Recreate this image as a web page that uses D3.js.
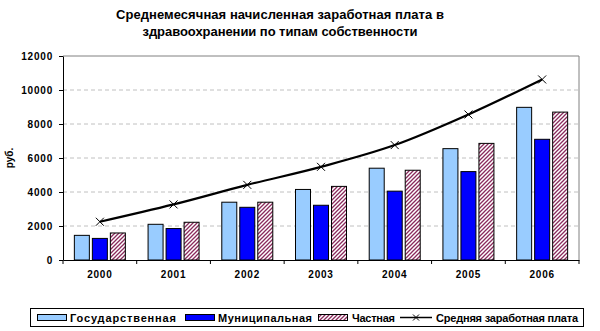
<!DOCTYPE html>
<html><head><meta charset="utf-8">
<script src="https://cdn.jsdelivr.net/npm/d3@7"></script>
<style>
body{margin:0;background:#fff;}
svg{display:block;font-family:"Liberation Sans",Arial,sans-serif;}
</style></head>
<body><svg id="c" width="600" height="331"></svg>
<script>
const years = ["2000","2001","2002","2003","2004","2005","2006"];
const gos = [1450, 2100, 3400, 4150, 5400, 6550, 8980];
const mun = [1270, 1850, 3100, 3220, 4050, 5200, 7100];
const chast = [1590, 2220, 3400, 4330, 5280, 6860, 8700];
const avg = [2250, 3270, 4420, 5480, 6760, 8560, 10620];
const yTicks = [0, 2000, 4000, 6000, 8000, 10000, 12000];
const seriesNames = ["Государственная", "Муниципальная", "Частная", "Средняя заработная плата"];
const titleLines = ["Среднемесячная начисленная заработная плата в", "здравоохранении по типам собственности"];

const svg = d3.select("#c");
const defs = svg.append("defs");
const pat = defs.append("pattern").attr("id","hatch").attr("patternUnits","userSpaceOnUse")
  .attr("width",4).attr("height",4);
pat.append("rect").attr("width",4).attr("height",4).attr("fill","#fff");
pat.append("path").attr("d","M-1,1 l2,-2 M0,4 l4,-4 M3,5 l2,-2").attr("stroke","#8a2a5c").attr("stroke-width",1.3);

const L=63, R=579, T=56, B=260;
const x = d3.scaleBand().domain(years).range([L,R]);
const y = d3.scaleLinear().domain([0,12000]).range([B,T]);

// title
const tw=[328,275];
titleLines.forEach((t,i)=>{
  svg.append("text").attr("x",280).attr("y",19+i*17).attr("text-anchor","middle")
   .attr("font-size",13).attr("font-weight","bold").attr("textLength",tw[i]).attr("lengthAdjust","spacing").text(t);
});

// gridlines
svg.append("g").selectAll("line").data(yTicks.filter(d=>d>0&&d<12000)).join("line")
  .attr("x1",L).attr("x2",R).attr("y1",d=>y(d)).attr("y2",d=>y(d))
  .attr("stroke","#c0c0c0").attr("stroke-dasharray","4,3");
// plot border top/right
svg.append("path").attr("d",`M${L},${T}H${R}V${B}`).attr("fill","none").attr("stroke","#808080").attr("stroke-width",1);

// bars
const bw=15, gap=3;
const groups=[{v:gos,fill:"#99ccff"},{v:mun,fill:"#0000ff"},{v:chast,fill:"url(#hatch)"}];
groups.forEach((g,si)=>{
  svg.append("g").selectAll("rect").data(years).join("rect")
   .attr("x",(d)=>x(d)+x.bandwidth()/2-(bw*1.5+gap)+si*(bw+gap))
   .attr("y",(d,i)=>y(g.v[i])).attr("width",bw).attr("height",(d,i)=>B-y(g.v[i]))
   .attr("fill",g.fill).attr("stroke","#000").attr("stroke-width",1);
});

// line
const cx=d=>x(d)+x.bandwidth()/2;
svg.append("path").datum(avg).attr("fill","none").attr("stroke","#000").attr("stroke-width",2.2)
  .attr("d",d3.line().x((d,i)=>cx(years[i])).y(d=>y(d)).curve(d3.curveMonotoneX));
svg.append("g").selectAll("path").data(avg).join("path")
  .attr("d",(d,i)=>{const a=cx(years[i]),b=y(d);return `M${a-4},${b-4}L${a+4},${b+4}M${a-4},${b+4}L${a+4},${b-4}`;})
  .attr("stroke","#000").attr("stroke-width",1);

// axes
const ya=svg.append("g").attr("transform",`translate(${L},0)`)
  .call(d3.axisLeft(y).tickValues(yTicks).tickFormat(d3.format("d")).tickSize(4).tickSizeOuter(0).tickPadding(6));
ya.select(".domain").attr("stroke","#000");
ya.selectAll("text").attr("font-size",10).attr("font-weight","bold").attr("font-family","Liberation Sans, Arial").attr("letter-spacing","0.8px");
const xa=svg.append("g").attr("transform",`translate(0,${B})`)
  .call(d3.axisBottom(x).tickSize(0).tickSizeOuter(0).tickPadding(11));
xa.select(".domain").attr("stroke","#000");
xa.selectAll("text").attr("font-size",10).attr("font-weight","bold").attr("font-family","Liberation Sans, Arial").attr("letter-spacing","0.8px");
svg.append("g").selectAll("line").data(d3.range(years.length+1)).join("line")
  .attr("x1",i=>L+i*x.step()).attr("x2",i=>L+i*x.step()).attr("y1",B).attr("y2",B+4).attr("stroke","#000");

// y label
svg.append("text").attr("transform","translate(13,158) rotate(-90)").attr("text-anchor","middle")
  .attr("font-size",10).attr("font-weight","bold").text("руб.");

// legend
const LG=svg.append("g");
LG.append("rect").attr("x",30.5).attr("y",308.5).attr("width",553).attr("height",18).attr("fill","#fff").attr("stroke","#000");
const items=[
 {sx:37,tx:70,tw:106,type:"bar",fill:"#99ccff"},
 {sx:185,tx:218,tw:94,type:"bar",fill:"#0000ff"},
 {sx:318,tx:352,tw:43,type:"bar",fill:"url(#hatch)"},
 {sx:400,tx:436,tw:142,type:"line"}
];
items.forEach((it,i)=>{
  if(it.type==="bar"){
    LG.append("rect").attr("x",it.sx+0.5).attr("y",314.5).attr("width",29).attr("height",6).attr("fill",it.fill).attr("stroke","#000");
  } else {
    LG.append("line").attr("x1",it.sx).attr("x2",it.sx+32).attr("y1",317.5).attr("y2",317.5).attr("stroke","#000").attr("stroke-width",1.5);
    const a=it.sx+16;
    LG.append("path").attr("d",`M${a-3},${314.5}L${a+3},${320.5}M${a-3},${320.5}L${a+3},${314.5}`).attr("stroke","#000");
  }
  LG.append("text").attr("x",it.tx).attr("y",322).attr("font-size",11).attr("font-weight","bold")
    .attr("textLength",it.tw).attr("lengthAdjust","spacing").text(seriesNames[i]);
});
</script></body></html>
